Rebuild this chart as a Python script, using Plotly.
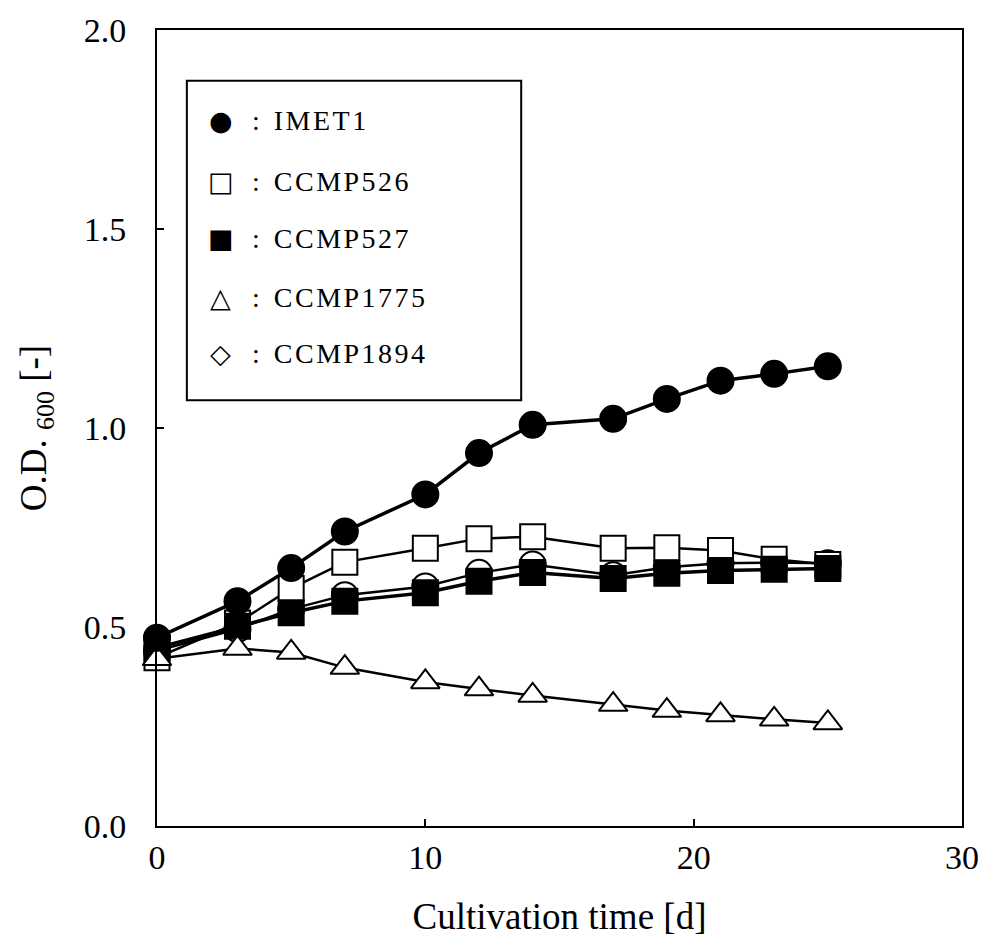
import plotly.graph_objects as go

# ---- data ----
days = [0, 3, 5, 7, 10, 12, 14, 17, 19, 21, 23, 25]
imet1 = [0.473, 0.565, 0.648, 0.740, 0.833, 0.937, 1.008, 1.023, 1.073, 1.119, 1.136, 1.155]
ccmp526 = [0.423, 0.510, 0.597, 0.663, 0.698, 0.722, 0.727, 0.698, 0.699, 0.692, 0.670, 0.657]
ccmp527 = [0.448, 0.502, 0.536, 0.565, 0.586, 0.615, 0.637, 0.622, 0.635, 0.642, 0.645, 0.647]
ccmp1775 = [0.420, 0.446, 0.436, 0.398, 0.362, 0.344, 0.328, 0.305, 0.290, 0.279, 0.268, 0.259]
ccmp1894 = [0.440, 0.495, 0.545, 0.580, 0.602, 0.636, 0.657, 0.630, 0.650, 0.660, 0.662, 0.660]

legend_names = ["IMET1", "CCMP526", "CCMP527", "CCMP1775", "CCMP1894"]
legend_glyphs = ["\u25CF", "\u25A1", "\u25A0", "\u25B3", "\u25C7"]

x_ticks = [0, 10, 20, 30]
y_ticks = [0.0, 0.5, 1.0, 1.5, 2.0]

SERIF = "Liberation Serif, Times New Roman, serif"

fig = go.Figure()


def add(y, name, symbol, fill, lw, size):
    fig.add_trace(go.Scatter(
        x=days, y=y, name=name, mode="lines+markers",
        line=dict(color="black", width=lw),
        marker=dict(symbol=symbol, size=size, color=fill,
                    line=dict(color="black", width=2)),
        cliponaxis=False, showlegend=False))


# drawing order (bottom to top) as seen in the reference
add(ccmp1894, "CCMP1894", "circle", "white", 2.5, 26)
add(ccmp526, "CCMP526", "square", "white", 2.5, 25)
add(ccmp527, "CCMP527", "square", "black", 3.5, 25)
add(ccmp1775, "CCMP1775", "triangle-up", "white", 2.5, 25)
add(imet1, "IMET1", "circle", "black", 3.5, 26)

# ---- custom legend box (a text box in the original) ----
px_left, px_plot_w, px_bottom, px_plot_h = 157, 809, 826, 800


def px2paper_x(px):
    return (px - px_left) / px_plot_w


def px2paper_y(py):
    return (px_bottom - py) / px_plot_h


fig.add_shape(type="rect", xref="paper", yref="paper",
              x0=px2paper_x(187), x1=px2paper_x(523),
              y0=px2paper_y(398), y1=px2paper_y(77),
              line=dict(color="black", width=2), fillcolor="white", layer="above")

rows_py = [117, 178, 236, 295, 351]
for g, nm, py in zip(legend_glyphs, legend_names, rows_py):
    fig.add_annotation(xref="paper", yref="paper", x=px2paper_x(221), y=px2paper_y(py),
                       text=g, showarrow=False, xanchor="center", yanchor="middle",
                       font=dict(family="DejaVu Sans", size=27, color="black"))
    fig.add_annotation(xref="paper", yref="paper", x=px2paper_x(250), y=px2paper_y(py),
                       text=":\u00a0 <span style='letter-spacing:2.5px'>" + nm + "</span>",
                       showarrow=False, xanchor="left", yanchor="middle",
                       font=dict(family=SERIF, size=28, color="black"))

axis_common = dict(showline=True, linecolor="black", linewidth=2, mirror=True,
                   ticks="inside", ticklen=7, tickwidth=2, tickcolor="black",
                   showgrid=False, zeroline=False,
                   tickfont=dict(family=SERIF, size=34, color="black"))

fig.update_xaxes(range=[0, 30], tickvals=x_ticks, ticktext=[str(v) for v in x_ticks],
                 title=dict(text="Cultivation time [d]", font=dict(family=SERIF, size=37, color="black"),
                            standoff=28),
                 **axis_common)
fig.update_yaxes(range=[0, 2], tickvals=y_ticks, ticktext=["%.1f" % v for v in y_ticks],
                 ticklabelstandoff=22,
                 title=dict(text="O.D. <sub>600</sub> [-]", font=dict(family=SERIF, size=37, color="black"),
                            standoff=26),
                 **axis_common)

fig.update_layout(width=991, height=946, margin=dict(l=157, r=25, t=26, b=120),
                  plot_bgcolor="white", paper_bgcolor="white", showlegend=False)

fig.write_html("out.html")
